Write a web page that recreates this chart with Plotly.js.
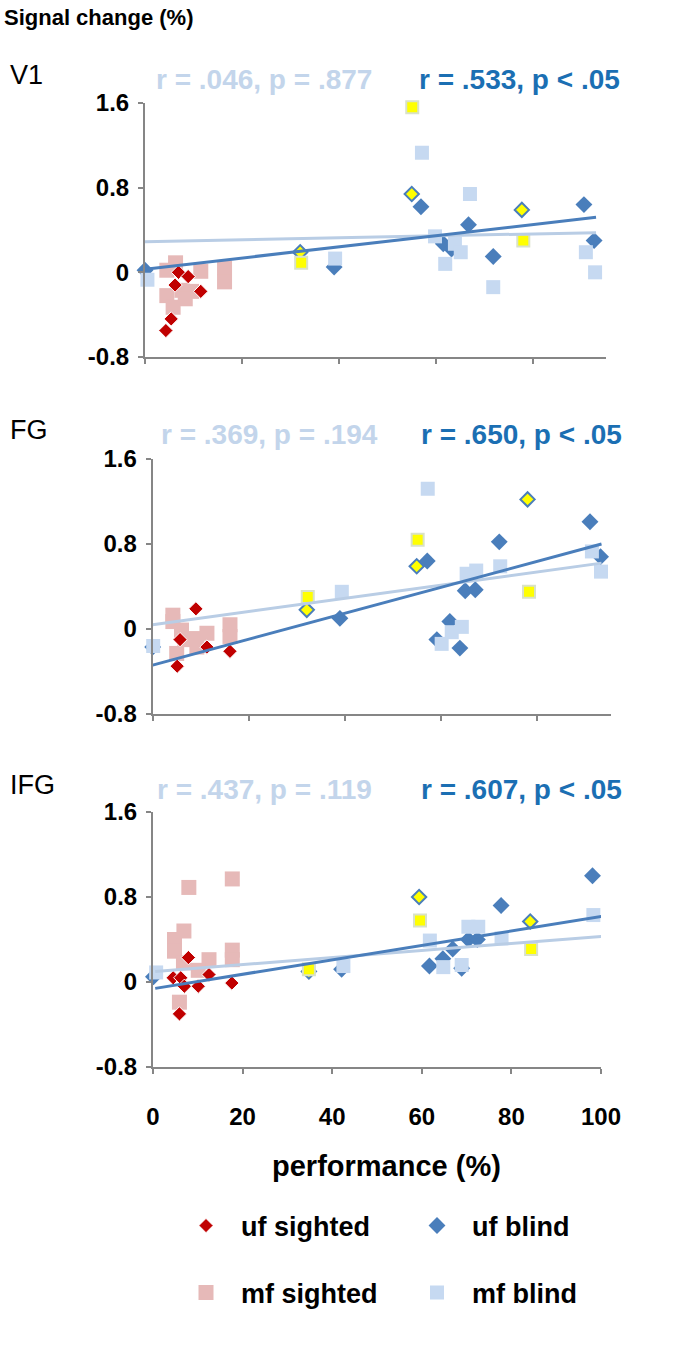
<!DOCTYPE html>
<html>
<head>
<meta charset="utf-8">
<script src="https://cdn.plot.ly/plotly-3.0.1.min.js"></script>
<style>html,body{margin:0;padding:0;background:#fff;}#chart{width:689px;height:1350px;}</style>
</head>
<body>
<div id="chart"></div>
<script>
// ---------- DATA ----------
const yTickVals = [-0.8, 0, 0.8, 1.6];
const yTickText = ['-0.8', '0', '0.8', '1.6'];
const xTickVals = [0, 20, 40, 60, 80, 100];
const xTickText = ['0', '20', '40', '60', '80', '100'];

// V1
const v1_ufSighted_x = [4.3, 5.4, 11.5, 6.9, 8.9, 6.2];
const v1_ufSighted_y = [-0.55, -0.44, -0.18, 0.00, -0.04, -0.12];
const v1_mfSighted_x = [6.3, 4.5, 11.5, 16.4, 16.4, 4.5, 7.6, 9.6, 8.3, 5.8];
const v1_mfSighted_y = [0.09, 0.02, 0.01, 0.04, -0.09, -0.22, -0.17, -0.18, -0.25, -0.33];
const v1_ufBlind_x = [0, 39.0, 56.9, 61.5, 63.2, 66.7, 71.8, 90.5, 92.6];
const v1_ufBlind_y = [0.02, 0.05, 0.62, 0.27, 0.22, 0.45, 0.15, 0.64, 0.30];
const v1_ufBlindHi_x = [32.0, 55.0, 77.7];
const v1_ufBlindHi_y = [0.19, 0.74, 0.59];
const v1_mfBlind_x = [0.5, 39.2, 57.1, 67.0, 59.8, 61.9, 63.9, 65.1, 71.8, 90.9, 92.8];
const v1_mfBlind_y = [-0.07, 0.13, 1.13, 0.74, 0.34, 0.08, 0.27, 0.19, -0.14, 0.19, 0.00];
const v1_mfBlindHi_x = [55.1, 32.2, 78.0];
const v1_mfBlindHi_y = [1.56, 0.09, 0.30];
const v1_ufFit_x = [0, 93];
const v1_ufFit_y = [0.03, 0.52];
const v1_mfFit_x = [0, 93];
const v1_mfFit_y = [0.29, 0.375];

// FG
const fg_ufSighted_x = [9.0, 5.1, 11.3, 16.1, 5.7];
const fg_ufSighted_y = [0.19, -0.35, -0.17, -0.21, -0.10];
const fg_mfSighted_x = [4.2, 4.2, 6.0, 11.3, 8.8, 16.1, 16.1, 5.0, 6.7, 9.2];
const fg_mfSighted_y = [0.13, 0.07, -0.01, -0.04, -0.09, 0.04, -0.07, -0.23, -0.10, -0.17];
const fg_ufBlind_x = [0, 39.0, 57.2, 72.2, 65.1, 67.2, 61.9, 59.2, 64.0, 91.1, 93.3];
const fg_ufBlind_y = [-0.17, 0.10, 0.64, 0.82, 0.36, 0.37, 0.07, -0.10, -0.18, 1.01, 0.68];
const fg_ufBlindHi_x = [32.1, 55.0, 78.1];
const fg_ufBlindHi_y = [0.18, 0.59, 1.22];
const fg_mfBlind_x = [0.1, 39.4, 57.3, 65.4, 67.4, 72.4, 64.4, 62.3, 60.2, 91.5, 93.4];
const fg_mfBlind_y = [-0.16, 0.35, 1.32, 0.52, 0.55, 0.59, 0.02, -0.03, -0.14, 0.73, 0.54];
const fg_mfBlindHi_x = [32.3, 55.2, 78.4];
const fg_mfBlindHi_y = [0.30, 0.84, 0.35];
const fg_ufFit_x = [0, 93.5];
const fg_ufFit_y = [-0.34, 0.80];
const fg_mfFit_x = [0, 93.5];
const fg_mfFit_y = [0.04, 0.62];

// IFG
const ifg_ufSighted_x = [4.5, 6.2, 7.9, 7.0, 10.1, 12.5, 17.6, 5.9];
const ifg_ufSighted_y = [0.04, 0.04, 0.23, -0.04, -0.04, 0.07, -0.01, -0.30];
const ifg_mfSighted_x = [8.0, 17.7, 4.8, 4.8, 6.9, 6.8, 12.5, 10.1, 17.7, 17.7, 5.9];
const ifg_mfSighted_y = [0.89, 0.97, 0.40, 0.29, 0.48, 0.18, 0.21, 0.11, 0.30, 0.21, -0.19];
const ifg_ufBlind_x = [0.1, 42.1, 61.7, 64.7, 66.9, 70.4, 72.4, 77.7, 68.9, 98.1, 100.3];
const ifg_ufBlind_y = [0.05, 0.12, 0.15, 0.22, 0.31, 0.40, 0.40, 0.72, 0.13, 1.00, 0.33];
const ifg_ufBlindHi_x = [34.8, 59.4, 84.2];
const ifg_ufBlindHi_y = [0.10, 0.80, 0.57];
const ifg_mfBlind_x = [0.7, 42.5, 61.8, 70.4, 72.6, 77.8, 64.8, 68.9, 98.3, 100.5];
const ifg_mfBlind_y = [0.09, 0.15, 0.39, 0.52, 0.52, 0.41, 0.14, 0.16, 0.63, 0.14];
const ifg_mfBlindHi_x = [34.8, 59.6, 84.4];
const ifg_mfBlindHi_y = [0.12, 0.58, 0.31];
const ifg_ufFit_x = [0.5, 100.5];
const ifg_ufFit_y = [-0.06, 0.62];
const ifg_mfFit_x = [0.5, 100.5];
const ifg_mfFit_y = [0.10, 0.43];

const panelNames = ['V1', 'FG', 'IFG'];
const statsMf = ['r = .046, p = .877', 'r = .369, p = .194', 'r = .437, p = .119'];
const statsUf = ['r = .533, p < .05', 'r = .650, p < .05', 'r = .607, p < .05'];
const legendNames = ['uf sighted', 'uf blind', 'mf sighted', 'mf blind'];

// ---------- STYLE ----------
const FONT = 'Liberation Sans, Arial, Helvetica, sans-serif';
const C_RED = '#c00000', C_PINK = '#e6b9b8', C_BLUE = '#4a7ebb', C_LBLUE = '#c6d9f1', C_YEL = '#ffff00';
const C_TXT_DARK = '#1b6fb3', C_TXT_LIGHT = '#c3d5eb', AXIS = '#868686';
const W = 689, H = 1350;
const P = px => px / W;
const Q = py => 1 - py / H;
const GAP = '\u00a0\u00a0';

const panels = [
  {ufS:[v1_ufSighted_x,v1_ufSighted_y], mfS:[v1_mfSighted_x,v1_mfSighted_y], ufB:[v1_ufBlind_x,v1_ufBlind_y], ufBH:[v1_ufBlindHi_x,v1_ufBlindHi_y], mfB:[v1_mfBlind_x,v1_mfBlind_y], mfBH:[v1_mfBlindHi_x,v1_mfBlindHi_y], ufF:[v1_ufFit_x,v1_ufFit_y], mfF:[v1_mfFit_x,v1_mfFit_y]},
  {ufS:[fg_ufSighted_x,fg_ufSighted_y], mfS:[fg_mfSighted_x,fg_mfSighted_y], ufB:[fg_ufBlind_x,fg_ufBlind_y], ufBH:[fg_ufBlindHi_x,fg_ufBlindHi_y], mfB:[fg_mfBlind_x,fg_mfBlind_y], mfBH:[fg_mfBlindHi_x,fg_mfBlindHi_y], ufF:[fg_ufFit_x,fg_ufFit_y], mfF:[fg_mfFit_x,fg_mfFit_y]},
  {ufS:[ifg_ufSighted_x,ifg_ufSighted_y], mfS:[ifg_mfSighted_x,ifg_mfSighted_y], ufB:[ifg_ufBlind_x,ifg_ufBlind_y], ufBH:[ifg_ufBlindHi_x,ifg_ufBlindHi_y], mfB:[ifg_mfBlind_x,ifg_mfBlind_y], mfBH:[ifg_mfBlindHi_x,ifg_mfBlindHi_y], ufF:[ifg_ufFit_x,ifg_ufFit_y], mfF:[ifg_mfFit_x,ifg_mfFit_y]}
];

// pixel geometry of each panel: x of 0, px per unit, x range max, y px of 1.6, y px of -0.8
const geom = [
  {x0:145, ppu:4.85, xmax:95, yTop:103, yBot:357},
  {x0:152.7, ppu:4.8, xmax:95.5, yTop:459, yBot:714},
  {x0:153, ppu:4.48, xmax:100, yTop:812, yBot:1067}
];

const traces = [];
panels.forEach((p, i) => {
  const xa = i === 0 ? 'x' : 'x' + (i + 1);
  const ya = i === 0 ? 'y' : 'y' + (i + 1);
  const first = i === 0;
  const base = {type:'scatter', mode:'markers', xaxis:xa, yaxis:ya, cliponaxis:false, hoverinfo:'x+y'};
  traces.push(Object.assign({}, base, {x:p.mfS[0], y:p.mfS[1], name:GAP + legendNames[2], legend:'legend2', showlegend:first, legendrank:1,
    marker:{symbol:'square', size:15, color:C_PINK}}));
  traces.push(Object.assign({}, base, {x:p.ufS[0], y:p.ufS[1], name:GAP + legendNames[0], legend:'legend', showlegend:first, legendrank:1,
    marker:{symbol:'diamond', size:11, color:C_RED, line:{color:'#ffffff', width:1}}}));
  traces.push(Object.assign({}, base, {x:p.ufB[0], y:p.ufB[1], name:GAP + legendNames[1], legend:'legend', showlegend:first, legendrank:2,
    marker:{symbol:'diamond', size:13, color:C_BLUE}}));
  traces.push(Object.assign({}, base, {x:p.ufBH[0], y:p.ufBH[1], name:GAP + legendNames[1], legend:'legend', showlegend:false,
    marker:{symbol:'diamond', size:11, color:C_YEL, line:{color:C_BLUE, width:2}}}));
  traces.push(Object.assign({}, base, {x:p.mfB[0], y:p.mfB[1], name:GAP + legendNames[3], legend:'legend2', showlegend:first, legendrank:2,
    marker:{symbol:'square', size:14, color:C_LBLUE}}));
  traces.push(Object.assign({}, base, {x:p.mfBH[0], y:p.mfBH[1], name:GAP + legendNames[3], legend:'legend2', showlegend:false,
    marker:{symbol:'square', size:12, color:C_YEL, line:{color:'#d9e2c8', width:2}}}));
  traces.push({type:'scatter', mode:'lines', xaxis:xa, yaxis:ya, x:p.mfF[0], y:p.mfF[1], showlegend:false, cliponaxis:false,
    hoverinfo:'skip', line:{color:'#b9cde5', width:3}});
  traces.push({type:'scatter', mode:'lines', xaxis:xa, yaxis:ya, x:p.ufF[0], y:p.ufF[1], showlegend:false, cliponaxis:false,
    hoverinfo:'skip', line:{color:C_BLUE, width:3}});
});

const legendFont = {family:FONT, size:27, weight:'bold', color:'#000'};
const layout = {
  width: W, height: H,
  margin: {l:0, r:0, t:0, b:0},
  paper_bgcolor: '#ffffff', plot_bgcolor: 'rgba(0,0,0,0)',
  font: {family: FONT, color: '#000000'},
  showlegend: true,
  legend: {x:P(186), y:Q(1226), xanchor:'left', yanchor:'middle', orientation:'h',
    font:legendFont, entrywidth:186, entrywidthmode:'pixels',
    bgcolor:'rgba(0,0,0,0)', traceorder:'normal'},
  legend2: {x:P(186), y:Q(1293), xanchor:'left', yanchor:'middle', orientation:'h',
    font:legendFont, entrywidth:186, entrywidthmode:'pixels',
    bgcolor:'rgba(0,0,0,0)', traceorder:'normal'},
  annotations: [],
  hovermode: 'closest'
};

geom.forEach((g, i) => {
  const sfx = i === 0 ? '' : String(i + 1);
  const xEnd = g.x0 + g.xmax * g.ppu;
  layout['xaxis' + sfx] = {
    domain: [P(g.x0), P(xEnd)], range: [0, g.xmax], anchor: 'y' + sfx,
    showline: true, linecolor: AXIS, linewidth: 2, mirror: false,
    showgrid: false, zeroline: false,
    ticks: 'outside', ticklen: 5, tickwidth: 2, tickcolor: AXIS,
    tickmode: 'array', tickvals: xTickVals, ticktext: xTickText,
    showticklabels: i === 2,
    tickfont: {family: FONT, size: 24, weight: 'bold', color: '#000'},
    ticklabelstandoff: 22,
    fixedrange: true
  };
  layout['yaxis' + sfx] = {
    domain: [Q(g.yBot), Q(g.yTop)], range: [-0.8, 1.6], anchor: 'x' + sfx,
    showline: true, linecolor: AXIS, linewidth: 2,
    showgrid: false, zeroline: false,
    ticks: 'outside', ticklen: 5, tickwidth: 2, tickcolor: AXIS,
    tickmode: 'array', tickvals: yTickVals, ticktext: yTickText,
    tickfont: {family: FONT, size: 24, weight: 'bold', color: '#000'},
    ticklabelstandoff: 4,
    fixedrange: true
  };
});

function ann(text, px, py, size, color, bold, anchor) {
  layout.annotations.push({text: text, xref:'paper', yref:'paper', x:P(px), y:Q(py),
    xanchor: anchor || 'left', yanchor:'middle', showarrow:false,
    font:{family:FONT, size:size, color:color, weight: bold ? 'bold' : 'normal'}});
}
ann('Signal change (%)', 2, 18, 22, '#000', true);
const titleY = [75, 430, 785];
const statY = [80, 435, 789];
const statMfX = [154, 159, 155];
const statUfX = [417, 419, 419];
panelNames.forEach((n, i) => {
  ann(n, 8, titleY[i], 27, '#000', false);
  ann(statsMf[i], statMfX[i], statY[i], 28, C_TXT_LIGHT, true);
  ann(statsUf[i], statUfX[i], statY[i], 28, C_TXT_DARK, true);
});
ann('performance (%)', 386, 1166, 29, '#000', true, 'center');

Plotly.newPlot('chart', traces, layout, {displayModeBar:false, staticPlot:false});
</script>
</body>
</html>
